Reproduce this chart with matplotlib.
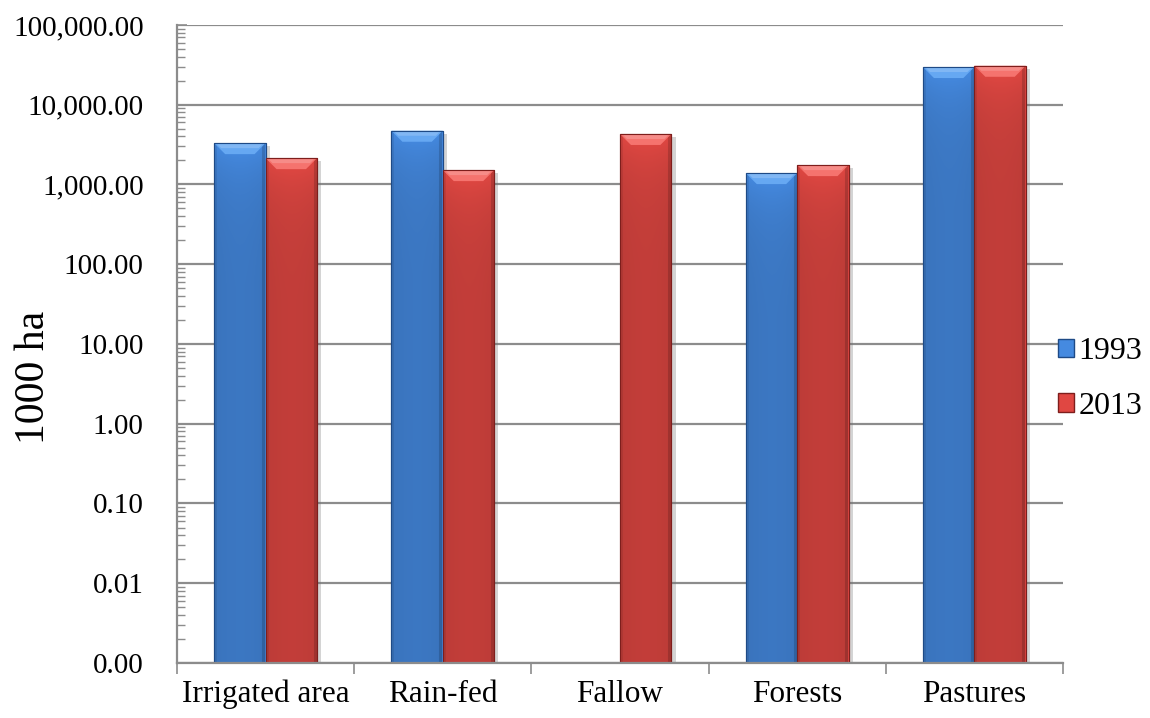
import numpy as np
import matplotlib
matplotlib.use("Agg")
import matplotlib.pyplot as plt
from matplotlib.patches import Polygon, Patch
from matplotlib.ticker import FixedLocator, FuncFormatter, LogLocator, NullFormatter
import matplotlib.patheffects as pe

# Land use areas (1000 ha)
categories = ["Irrigated area", "Rain-fed", "Fallow", "Forests", "Pastures"]
years = ["1993", "2013"]
values_1993 = [3300, 4720, np.nan, 1390, 29700]
values_2013 = [2140, 1515, 4300, 1750, 30800]
y_ticks = [0.001, 0.01, 0.1, 1, 10, 100, 1000, 10000, 100000]

base_colors = {"1993": (0.27, 0.54, 0.88), "2013": (0.88, 0.28, 0.26)}
light_colors = {"1993": (0.40, 0.66, 0.95), "2013": (0.96, 0.45, 0.43)}
edge_colors = {"1993": "#1E4A86", "2013": "#7E1E1C"}

plt.rcParams["font.family"] = ["Liberation Serif", "DejaVu Serif"]

fig = plt.figure(figsize=(11.5, 7.18), dpi=100)
ax = fig.add_axes([0.1539, 0.0766, 0.7704, 0.8886])
ax.set_yscale("log")
ymin, ymax = y_ticks[0], y_ticks[-1]
ax.set_ylim(ymin, ymax)
ax.set_xlim(-0.5, len(categories) - 0.5)

x = np.arange(len(categories))
width = 0.29
series = [("1993", values_1993, x - width / 2), ("2013", values_2013, x + width / 2)]

bars_by_year = {}
for year, vals, pos in series:
    bars = ax.bar(pos, vals, width=width, bottom=ymin, color=base_colors[year],
                  edgecolor=edge_colors[year], linewidth=0.8, zorder=2)
    for b in bars:
        b.set_path_effects([pe.SimplePatchShadow(offset=(3, -2), shadow_rgbFace="0.45", alpha=0.3),
                            pe.Normal()])
    bars_by_year[year] = bars

# gridlines and axes styling
grid_color = "#8C8C8C"
ax.yaxis.set_major_locator(FixedLocator(y_ticks))
ax.yaxis.set_minor_locator(LogLocator(base=10, subs=np.arange(2, 10), numticks=20))
ax.yaxis.set_minor_formatter(NullFormatter())
ax.yaxis.set_major_formatter(FuncFormatter(lambda v, p: f"{v:,.2f}"))
ax.grid(axis="y", which="major", color=grid_color, linewidth=1.6, zorder=0)
ax.set_axisbelow(True)
ax.tick_params(axis="y", which="major", direction="in", length=7, width=1.2, color=grid_color,
               labelsize=21, pad=24)
ax.tick_params(axis="y", which="minor", direction="in", length=6, width=1.0, color=grid_color)

ax.set_xticks(x)
ax.set_xticklabels(categories)
ax.xaxis.set_minor_locator(FixedLocator(np.arange(-0.5, len(categories), 1.0)))
ax.tick_params(axis="x", which="major", length=0, labelsize=22.5, pad=12)
ax.tick_params(axis="x", which="minor", direction="out", length=8, width=1.2, color=grid_color)

for s in ["top", "right"]:
    ax.spines[s].set_visible(False)
for s in ["left", "bottom"]:
    ax.spines[s].set_color(grid_color)
    ax.spines[s].set_linewidth(1.6)

fig.text(34 / 1150, 1 - 377 / 718, "1000 ha", rotation=90, fontsize=30,
         ha="center", va="center")

# shading for each bar: gradient body and a bevelled top face
fig.canvas.draw()
to_disp = ax.transData
to_data = ax.transData.inverted()
ncols = 64
xs = np.linspace(0, 1, ncols)
hshade = np.ones(ncols)
hshade[xs < 0.04] = 0.92
hshade[xs > 0.93] = 0.84
hshade += 0.03 * np.sin(np.pi * xs)
nrows = 32
vshade = np.linspace(1.0, 0.84, nrows)[:, None]

for year, bars in bars_by_year.items():
    base = np.array(base_colors[year])
    light = light_colors[year]
    for b in bars:
        if not np.isfinite(b.get_height()):
            continue
        h = b.get_height() + b.get_y()
        x0, x1 = b.get_x(), b.get_x() + b.get_width()
        img = np.clip(base[None, None, :] * hshade[None, :, None] * vshade[:, :, None], 0, 1)
        im = ax.imshow(img, extent=(x0, x1, b.get_y(), h), aspect="auto",
                       interpolation="bilinear", zorder=2.1, origin="upper")
        im.set_clip_path(b)
        # bevel top face in display space
        (dx0, dyt), (dx1, _) = to_disp.transform([(x0, h), (x1, h)])
        inset, depth = 11, 11
        pts_disp = [(dx0, dyt), (dx1, dyt), (dx1 - inset, dyt - depth), (dx0 + inset, dyt - depth)]
        ax.add_patch(Polygon(to_data.transform(pts_disp), closed=True, facecolor=light,
                             edgecolor="none", zorder=2.2))
        band = [(dx0 + 3, dyt - 1), (dx1 - 3, dyt - 1), (dx1 - 7, dyt - 5), (dx0 + 7, dyt - 5)]
        ax.add_patch(Polygon(to_data.transform(band), closed=True, facecolor="white",
                             alpha=0.18, edgecolor="none", zorder=2.25))
        outline = plt.Rectangle((x0, b.get_y()), b.get_width(), b.get_height(), fill=False,
                                edgecolor=edge_colors[year], linewidth=0.8, zorder=2.3)
        ax.add_patch(outline)

ax.set_xlim(-0.5, len(categories) - 0.5)
ax.set_ylim(ymin, ymax)

handles = [Patch(facecolor=base_colors[y], edgecolor=edge_colors[y], label=y) for y in years]
fig.legend(handles=handles, loc="center left", bbox_to_anchor=(1045 / 1150, 1 - 379 / 718),
           frameon=False, fontsize=23, handlelength=0.5, handleheight=0.5, handletextpad=0.15,
           labelspacing=0.8, borderaxespad=0.0)

fig.savefig("out.png", dpi=100)
